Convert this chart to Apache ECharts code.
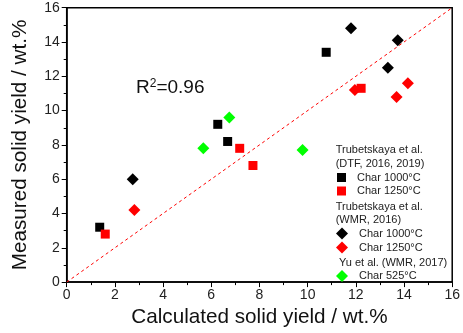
<!DOCTYPE html>
<html><head><meta charset="utf-8">
<script src="https://cdn.jsdelivr.net/npm/echarts@6/dist/echarts.min.js"></script>
<style>html,body{margin:0;padding:0;background:#fff}#c{width:463px;height:333px}</style>
</head><body><div id="c"></div>
<script>
const FONT = '"Liberation Sans", Arial, sans-serif';
const xTicks = [0,2,4,6,8,10,12,14,16];
const yTicks = [0,2,4,6,8,10,12,14,16];
const dtf1000 = [[1.37,3.2],[6.27,9.2],[6.68,8.2],[10.77,13.4]];
const dtf1250 = [[1.6,2.8],[7.18,7.8],[7.73,6.8],[12.22,11.3]];
const wmr1000 = [[2.74,6.0],[11.8,14.8],[13.74,14.1],[13.33,12.5]];
const wmr1250 = [[2.81,4.2],[11.96,11.2],[14.16,11.6],[13.69,10.8]];
const yu525 = [[5.67,7.8],[6.75,9.6],[9.79,7.7]];
const parity = [[0,0],[16,16]];
const r2Text = '0.96';

const chart = echarts.init(document.getElementById('c'));
const fmt = n => n.replace(/^\S+ /, '');
function lg(name, icon, size, left, top) {
  return {
    data: [name], orient: 'vertical', left: left, top: top, padding: 0,
    icon: icon, itemWidth: size, itemHeight: size, selectedMode: false,
    formatter: fmt,
    textStyle: {fontFamily: FONT, fontSize: 11, color: '#222', padding: [0,0,0,6]}
  };
}
const axisCommon = {
  min: 0, max: 16, interval: 2,
  axisLine: {show: true, lineStyle: {color: '#000', width: 1.5}},
  axisTick: {show: true, inside: false, length: 5, lineStyle: {color: '#000', width: 1}},
  minorTick: {show: true, splitNumber: 2, length: 3, lineStyle: {color: '#000', width: 1}},
  splitLine: {show: false},
  nameLocation: 'middle',
  nameTextStyle: {fontFamily: FONT, fontSize: 20.7, color: '#111'}
};
chart.setOption({
  animation: false,
  grid: {left: 66.7, right: 7, top: 7.7, bottom: 50.3, show: true, borderColor: '#000', borderWidth: 1.5, containLabel: false},
  xAxis: Object.assign({}, axisCommon, {
    type: 'value', name: 'Calculated solid yield / wt.%', nameGap: 18,
    axisLabel: {fontFamily: FONT, fontSize: 14, color: '#222', margin: 6,
      formatter: v => xTicks.includes(v) ? String(v) : ''}
  }),
  yAxis: Object.assign({}, axisCommon, {
    type: 'value', name: 'Measured solid yield / wt.%', nameGap: 36,
    axisLabel: {fontFamily: FONT, fontSize: 14, color: '#222', margin: 7,
      formatter: v => yTicks.includes(v) ? String(v) : ''}
  }),
  legend: [
    lg('DTF Char 1000°C', 'rect', 9, 337, 172),
    lg('DTF Char 1250°C', 'rect', 9, 337, 185.5),
    lg('WMR Char 1000°C', 'diamond', 12, 336, 227.5),
    lg('WMR Char 1250°C', 'diamond', 12, 336, 241.5),
    lg('Yu Char 525°C', 'diamond', 12, 336, 270)
  ],
  graphic: [
    {type: 'text', left: 335.7, top: 144, style: {text: 'Trubetskaya et al.', font: '11px ' + FONT, fill: '#222'}},
    {type: 'text', left: 335.7, top: 158, style: {text: '(DTF, 2016, 2019)', font: '11px ' + FONT, fill: '#222'}},
    {type: 'text', left: 335.7, top: 201, style: {text: 'Trubetskaya et al.', font: '11px ' + FONT, fill: '#222'}},
    {type: 'text', left: 335.7, top: 214, style: {text: '(WMR, 2016)', font: '11px ' + FONT, fill: '#222'}},
    {type: 'text', left: 339, top: 257, style: {text: 'Yu et al. (WMR, 2017)', font: '11px ' + FONT, fill: '#222'}},
    {type: 'text', left: 136, top: 78, style: {
      text: '{r|R}{s|2}{r|=' + r2Text + '}',
      rich: {r: {fontFamily: FONT, fontSize: 19, fill: '#111', verticalAlign: 'bottom'},
             s: {fontFamily: FONT, fontSize: 12, fill: '#111', verticalAlign: 'top'}}
    }}
  ],
  series: [
    {type: 'line', data: parity, symbol: 'none', silent: true, lineStyle: {color: '#ff0000', width: 1, type: [3, 3]}, z: 1},
    {type: 'scatter', name: 'DTF Char 1000°C', data: dtf1000, symbol: 'rect', symbolSize: 9, itemStyle: {color: '#000', opacity: 1}},
    {type: 'scatter', name: 'DTF Char 1250°C', data: dtf1250, symbol: 'rect', symbolSize: 9, itemStyle: {color: '#ff0000', opacity: 1}},
    {type: 'scatter', name: 'WMR Char 1000°C', data: wmr1000, symbol: 'diamond', symbolSize: 12, itemStyle: {color: '#000', opacity: 1}},
    {type: 'scatter', name: 'WMR Char 1250°C', data: wmr1250, symbol: 'diamond', symbolSize: 12, itemStyle: {color: '#ff0000', opacity: 1}},
    {type: 'scatter', name: 'Yu Char 525°C', data: yu525, symbol: 'diamond', symbolSize: 12, itemStyle: {color: '#00ff00', opacity: 1}}
  ]
});
</script></body></html>
